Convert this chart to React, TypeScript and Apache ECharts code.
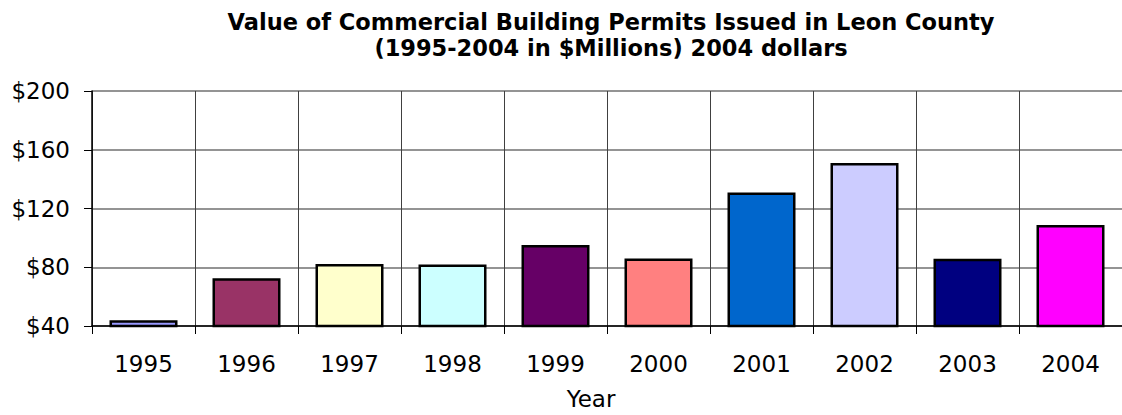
import React, { useEffect, useRef } from "react";
import * as echarts from "echarts";

const years = ["1995", "1996", "1997", "1998", "1999", "2000", "2001", "2002", "2003", "2004"];
const values = [44, 72.5, 82.2, 81.8, 95.1, 86, 130.9, 150.9, 85.8, 108.7];
const colors = ["#9999FF", "#993366", "#FFFFCC", "#CCFFFF", "#660066", "#FF8080", "#0066CC", "#CCCCFF", "#000080", "#FF00FF"];
const yTicks = [40, 80, 120, 160, 200];
const titleText = "Value of Commercial Building Permits Issued in Leon County\n(1995-2004 in $Millions) 2004 dollars";
const xName = "Year";

export default function App() {
  const ref = useRef<HTMLDivElement>(null);
  useEffect(() => {
    if (!ref.current) return;
    const chart = echarts.init(ref.current, undefined, { renderer: "svg" });
    const font = "'DejaVu Sans', Verdana, sans-serif";
    chart.setOption({
      animation: false,
      backgroundColor: "#ffffff",
      title: {
        text: titleText,
        left: 611,
        textAlign: "center",
        top: 9,
        padding: 0,
        textStyle: {
          fontFamily: font,
          fontWeight: "bold",
          fontSize: 22.5,
          lineHeight: 26,
          color: "#000",
        },
      },
      grid: { left: 92, right: -10, top: 91, bottom: 84, containLabel: false },
      xAxis: {
        type: "category",
        data: years,
        name: xName,
        nameLocation: "middle",
        nameGap: 61,
        nameTextStyle: { fontFamily: font, fontSize: 23, color: "#000", padding: [0, 32, 0, 0] },
        axisLine: { show: true, lineStyle: { color: "#000", width: 1.5 } },
        axisTick: { show: true, length: 8, lineStyle: { color: "#000" } },
        axisLabel: { fontFamily: font, fontSize: 23, color: "#000", margin: 26 },
        splitLine: { show: true, lineStyle: { color: "#404040", width: 1 } },
      },
      yAxis: {
        type: "value",
        min: yTicks[0],
        max: yTicks[yTicks.length - 1],
        interval: 40,
        axisLine: { show: true, lineStyle: { color: "#000", width: 1.5 } },
        axisTick: { show: true, length: 8, lineStyle: { color: "#000" } },
        axisLabel: {
          fontFamily: font,
          fontSize: 23,
          color: "#000",
          margin: 22,
          formatter: (v: number) => "$" + v,
        },
        splitLine: { show: true, lineStyle: { color: "#707070", width: 1.5 } },
      },
      series: [
        {
          type: "bar",
          barWidth: 68,
          data: values.map((v, i) => ({
            value: v,
            itemStyle: { color: colors[i], borderColor: "#000", borderWidth: 2.5 },
          })),
        },
      ],
    });
    return () => chart.dispose();
  }, []);
  return (
    <div
      ref={ref}
      style={{ position: "absolute", left: 0, top: 0, width: 1122, height: 415 }}
    />
  );
}
